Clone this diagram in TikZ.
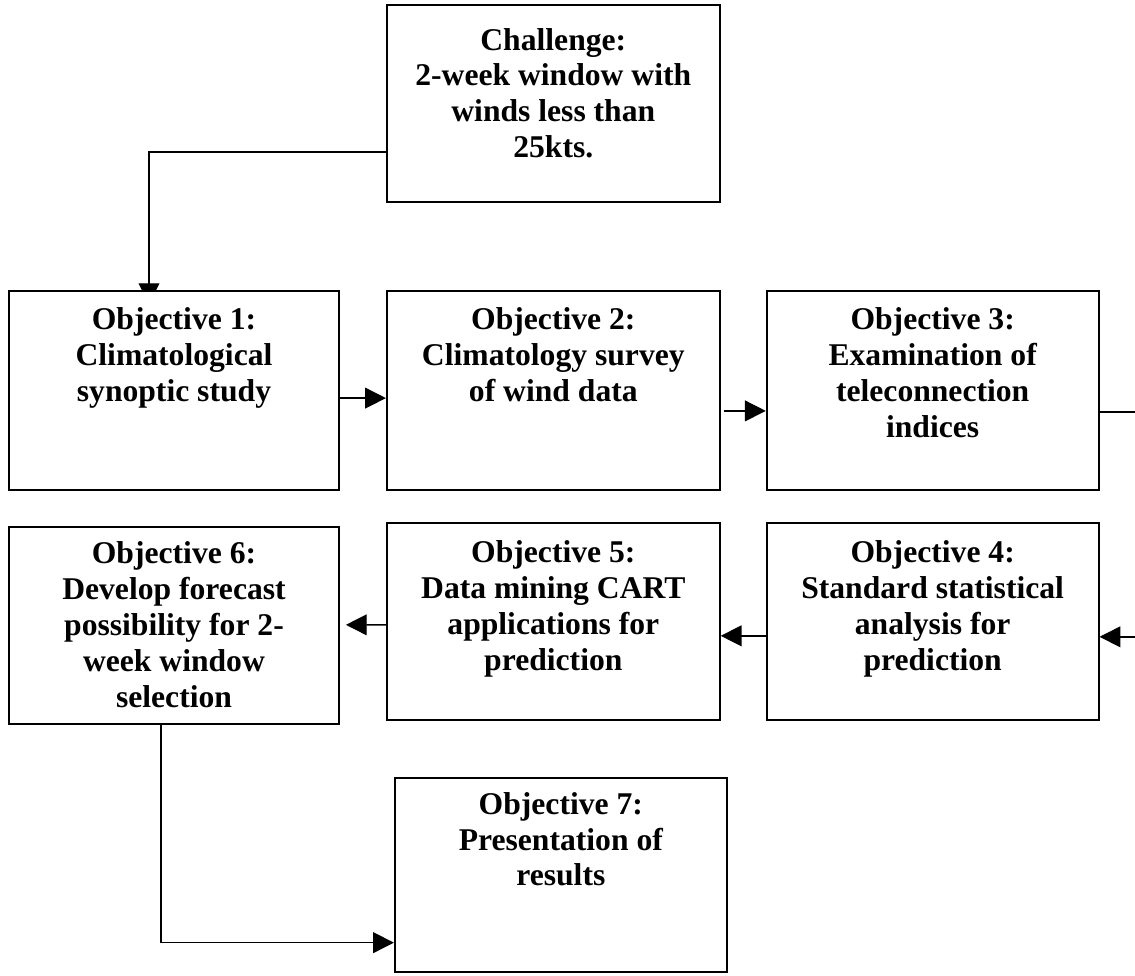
\documentclass[tikz,border=0pt]{standalone}
\usepackage{fontspec}
\setmainfont{Liberation Serif}
\usetikzlibrary{arrows.meta,positioning,backgrounds}

\begin{document}
\begin{tikzpicture}[
  node distance=1.15cm,
  objbox/.style={draw,line width=1.3pt,fill=white,minimum width=8.3cm,
                 minimum height=4.95cm,inner sep=0pt},
  objtext/.style={align=center,inner sep=0pt,
                  font=\bfseries\fontsize{22.5}{25.5}\selectfont},
  link/.style={line width=1pt,-{Triangle[length=0.52cm,width=0.52cm]}},
]
  \useasboundingbox (0,0) rectangle (28.375,-24.4);

  % boxes
  \node[objbox, minimum width=8.25cm, minimum height=4.975cm] (obj1) at (4.35,-9.7625) {};
  \node[objbox, minimum width=8.325cm, minimum height=4.975cm, right=1.15cm of obj1] (obj2) {};
  \node[objbox, minimum height=4.975cm, right=1.125cm of obj2] (obj3) {};
  \node[objbox, minimum width=8.325cm, minimum height=4.925cm, above=2.175cm of obj2] (chal) {};
  \node[objbox, minimum height=4.925cm, below=0.775cm of obj3] (obj4) {};
  \node[objbox, minimum width=8.325cm, minimum height=4.925cm, left=1.125cm of obj4] (obj5) {};
  \node[objbox, minimum width=8.25cm, minimum height=4.925cm, left=1.15cm of obj5, yshift=-0.1cm] (obj6) {};
  \node[objbox, minimum height=4.85cm, below=1.4cm of obj5, xshift=0.1875cm] (obj7) {};

  % texts
  \node[objtext, below=0.59cm of chal.north] (tchal)
    {Challenge:\\2-week window with\\winds less than\\25kts.};
  \node[objtext, below=0.44cm of obj1.north] (tobj1)
    {Objective 1:\\Climatological\\synoptic study};
  \node[objtext, below=0.44cm of obj2.north] (tobj2)
    {Objective 2:\\Climatology survey\\of wind data};
  \node[objtext, below=0.44cm of obj3.north] (tobj3)
    {Objective 3:\\Examination of\\teleconnection\\indices};
  \node[objtext, below=0.46cm of obj4.north] (tobj4)
    {Objective 4:\\Standard statistical\\analysis for\\prediction};
  \node[objtext, below=0.46cm of obj5.north] (tobj5)
    {Objective 5:\\Data mining CART\\applications for\\prediction};
  \node[objtext, below=0.39cm of obj6.north] (tobj6)
    {Objective 6:\\Develop forecast\\possibility for 2-\\week window\\selection};
  \node[objtext, below=0.38cm of obj7.north] (tobj7)
    {Objective 7:\\Presentation of\\results};

  % connectors
  \coordinate (edge) at ([xshift=1.2cm]obj3.south east);
  \begin{scope}[on background layer]
    \draw[link] ([yshift=-1.2125cm]chal.west) -| ([xshift=-0.625cm,yshift=-0.35cm]obj1.north);
    \draw[link] ([yshift=-0.19cm]obj1.east) -- ([yshift=-0.19cm]obj2.west);
    \draw[link] ([xshift=0.075cm,yshift=-0.51cm]obj2.east) -- ([yshift=-0.51cm]obj3.west);
    \draw[link] ([yshift=-0.5375cm]obj3.east) -| (edge) |- ([yshift=-0.3875cm]obj4.east);
    \draw[link] ([yshift=-0.3625cm]obj4.west) -- ([yshift=-0.3625cm]obj5.east);
    \draw[link, shorten >=0.15cm] ([yshift=-0.0875cm]obj5.west) -- ([yshift=0.0125cm]obj6.east);
    \draw[link] ([xshift=-0.325cm]obj6.south) |- ([yshift=-1.7cm]obj7.west);
  \end{scope}
\end{tikzpicture}
\end{document}
